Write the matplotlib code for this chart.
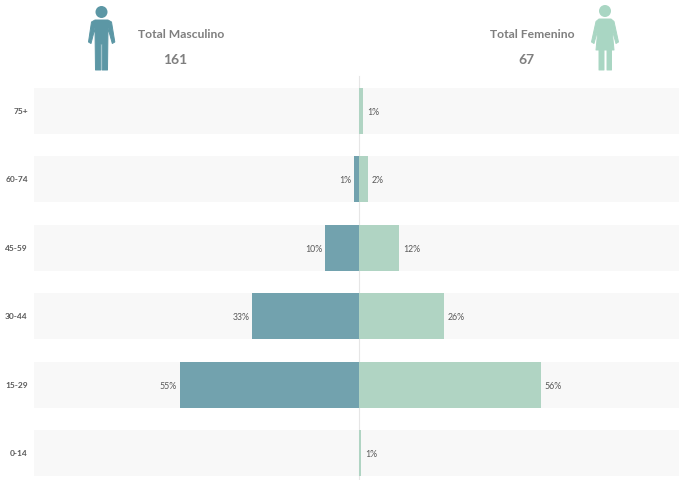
import matplotlib
matplotlib.use("Agg")
import matplotlib.pyplot as plt
from matplotlib.patches import Circle, Polygon

plt.rcParams['font.family'] = ['Lato', 'DejaVu Sans']

ages = ["0-14", "15-29", "30-44", "45-59", "60-74", "75+"]
male = [0, 55.2, 32.8, 10.5, 1.6, 0]
female = [0.7, 56.0, 26.2, 12.4, 2.6, 1.3]
male_labels = ["", "55%", "33%", "10%", "1%", ""]
female_labels = ["1%", "56%", "26%", "12%", "2%", "1%"]
total_male = 161
total_female = 67

W, H = 679, 480
BAR_M = "#72A2AE"
BAR_F = "#B0D4C3"
ICON_M = "#5C97A5"
ICON_F = "#A9D6C3"
BAND = "#F8F8F8"
GREY = "#7F7F7F"
TXT = "#595959"

fig = plt.figure(figsize=(W / 100, H / 100), dpi=100)

# chart area, bands run from x=34 to the right edge
ax = fig.add_axes([34 / W, 1 - 476.5 / H, (W - 34) / W, (476.5 - 87.5) / H])
ax.set_xlim(-100, 98.4)
ax.set_ylim(-0.34, 5.34)
pos = range(len(ages))
ax.barh(pos, [-100] * 6, height=0.67, color=BAND, zorder=1)
ax.barh(pos, [98.4] * 6, height=0.67, color=BAND, zorder=1)
ax.axvline(0, ymin=-0.009, ymax=1.03, color="#E6E6E6", lw=0.8, clip_on=False, zorder=1.5)
ax.barh(pos, [-m for m in male], height=0.67, color=BAR_M, zorder=2)
ax.barh(pos, female, height=0.67, color=BAR_F, zorder=2)

for i in pos:
    if male_labels[i]:
        ax.text(-male[i] - 0.9, i - 0.02, male_labels[i], ha="right", va="center", fontsize=6.3, color=TXT, zorder=3)
    ax.text(female[i] + 1.1, i - 0.02, female_labels[i], ha="left", va="center", fontsize=6.3, color=TXT, zorder=3)

ax.set_yticks(list(pos))
ax.set_yticklabels(ages, fontsize=6, fontweight="bold", color=TXT)
ax.tick_params(axis="y", length=0, pad=4.5)
ax.set_xticks([])
for s in ax.spines.values():
    s.set_visible(False)

# overlay in pixel coordinates for the icons and totals
ov = fig.add_axes([0, 0, 1, 1], facecolor="none")
ov.set_xlim(0, W)
ov.set_ylim(H, 0)
ov.axis("off")

ov.add_patch(Circle((101.5, 12), 6, color=ICON_M, lw=0))
ov.add_patch(Polygon([(95, 20), (108, 20), (111.5, 22), (114.8, 42), (112.3, 43.5), (108, 28),
                      (107.5, 70), (102.2, 70), (102.2, 44), (100.8, 44), (100.8, 70), (95.5, 70),
                      (95, 28), (91, 43.5), (88.5, 42), (91.5, 22)],
                     closed=True, facecolor=ICON_M, edgecolor=ICON_M, lw=0.7, joinstyle="round"))

ov.add_patch(Circle((605, 11), 6, color=ICON_F, lw=0))
ov.add_patch(Polygon([(599, 19), (611, 19), (614, 21.5), (618.5, 42), (616, 43.5), (612, 29),
                      (614, 50), (611.5, 50), (611.5, 70), (607, 70), (607, 50), (604, 50), (604, 70),
                      (599, 70), (599, 50), (596, 50), (598, 29), (594, 43.5), (591.5, 42), (596, 21.5)],
                     closed=True, facecolor=ICON_F, edgecolor=ICON_F, lw=0.7, joinstyle="round"))

ov.text(181.5, 34.5, "Total Masculino", ha="center", va="center", fontsize=8.7, fontweight="bold", color=GREY)
ov.text(175, 59.5, str(total_male), ha="center", va="center", fontsize=10, fontweight="bold", color=GREY)
ov.text(532, 34.5, "Total Femenino", ha="center", va="center", fontsize=8.7, fontweight="bold", color=GREY)
ov.text(526, 59.5, str(total_female), ha="center", va="center", fontsize=10, fontweight="bold", color=GREY)

fig.savefig("out.png", dpi=100)
